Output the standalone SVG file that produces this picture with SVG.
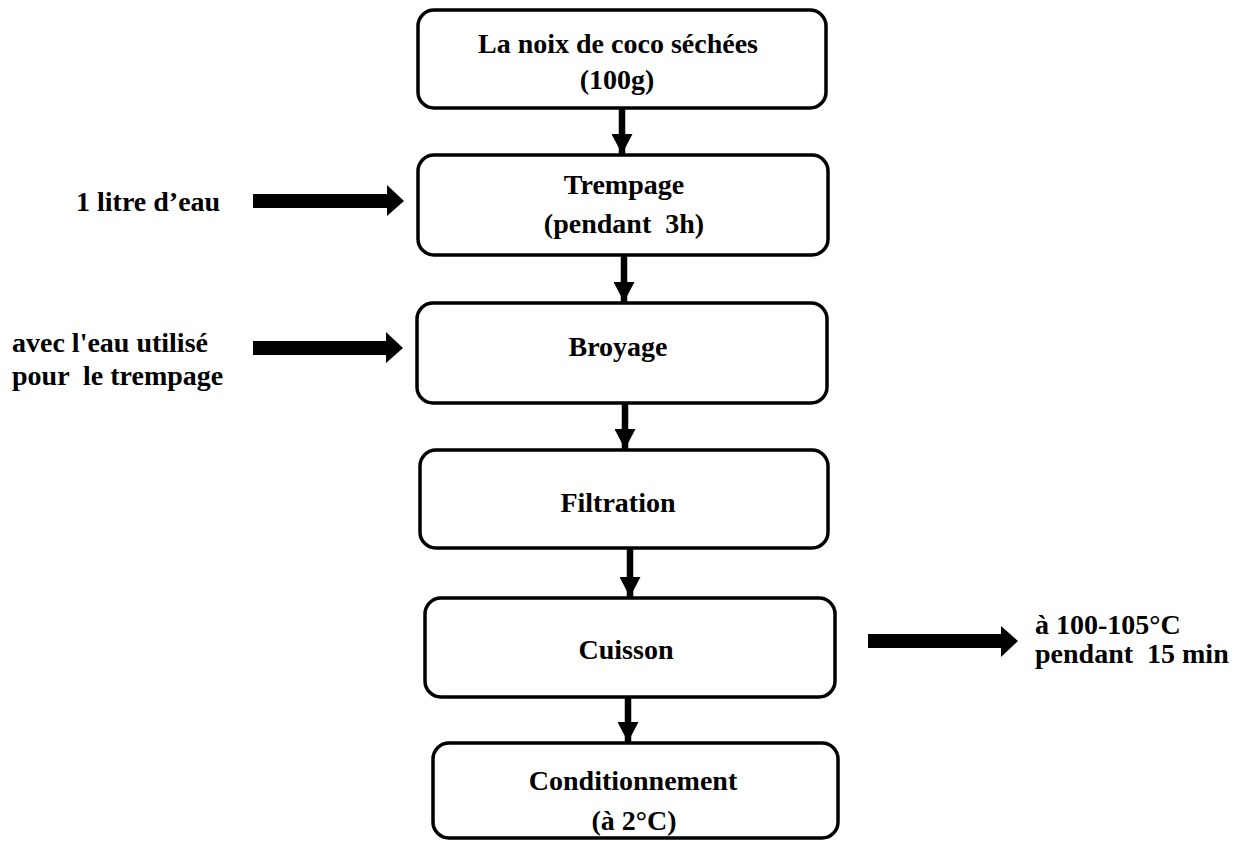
<svg xmlns="http://www.w3.org/2000/svg" width="1241" height="841" viewBox="0 0 1241 841">
<style>
.box{fill:#fff;stroke:#000;stroke-width:3.5}
.t{font-family:"Liberation Serif","Times New Roman",serif;font-weight:bold;font-size:28px;fill:#000}
.c{text-anchor:middle}
.v{stroke:#000;stroke-width:6.5;fill:none}
.blk{fill:#000}
</style>
<defs>
<marker id="ah" markerUnits="userSpaceOnUse" markerWidth="22" markerHeight="21" refX="20" refY="10.5" orient="auto">
<path d="M0,0 L20,10.5 L0,21 Z" fill="#000"/>
</marker>
</defs>
<rect width="1241" height="841" fill="#fff"/>
<g id="connectors">
<line class="v" x1="622" y1="108" x2="622" y2="154" marker-end="url(#ah)"/>
<line class="v" x1="624" y1="255" x2="624" y2="302" marker-end="url(#ah)"/>
<line class="v" x1="625" y1="403" x2="625" y2="449" marker-end="url(#ah)"/>
<line class="v" x1="630" y1="548" x2="630" y2="597" marker-end="url(#ah)"/>
<line class="v" x1="628" y1="697" x2="628" y2="742" marker-end="url(#ah)"/>
<polygon class="blk" points="253,194 387,194 387,185 404,201 387,216 387,208 253,208"/>
<polygon class="blk" points="253,341 386,341 386,332 403,348 386,363 386,355 253,355"/>
<polygon class="blk" points="868,634 1001,634 1001,626 1018,641 1001,657 1001,648 868,648"/>
</g>
<g id="node-coco">
<rect class="box" x="418" y="10" width="408" height="98" rx="16"/>
<text class="t c" x="618" y="53">La noix de coco séchées</text>
<text class="t c" x="617" y="89">(100g)</text>
</g>
<g id="node-trempage">
<rect class="box" x="418" y="155" width="410" height="100" rx="16"/>
<text class="t c" x="624" y="194">Trempage</text>
<text class="t c" x="624" y="233" xml:space="preserve">(pendant  3h)</text>
</g>
<g id="node-broyage">
<rect class="box" x="417" y="303" width="410" height="100" rx="16"/>
<text class="t c" x="618" y="356">Broyage</text>
</g>
<g id="node-filtration">
<rect class="box" x="420" y="450" width="408" height="98" rx="16"/>
<text class="t c" x="618" y="512">Filtration</text>
</g>
<g id="node-cuisson">
<rect class="box" x="425" y="598" width="410" height="99" rx="16"/>
<text class="t c" x="626" y="659">Cuisson</text>
</g>
<g id="node-conditionnement">
<rect class="box" x="433" y="743" width="405" height="95" rx="16"/>
<text class="t c" x="633" y="790">Conditionnement</text>
<text class="t c" x="634" y="830">(à 2°C)</text>
</g>
<g id="label-eau">
<text class="t" x="76" y="211">1 litre d’eau</text>
</g>
<g id="label-broyage">
<text class="t" x="12" y="352">avec l'eau utilisé</text>
<text class="t" x="12" y="385" xml:space="preserve">pour  le trempage</text>
</g>
<g id="label-cuisson">
<text class="t" x="1035" y="634">à 100-105°C</text>
<text class="t" x="1035" y="663" xml:space="preserve">pendant  15 min</text>
</g>
</svg>
